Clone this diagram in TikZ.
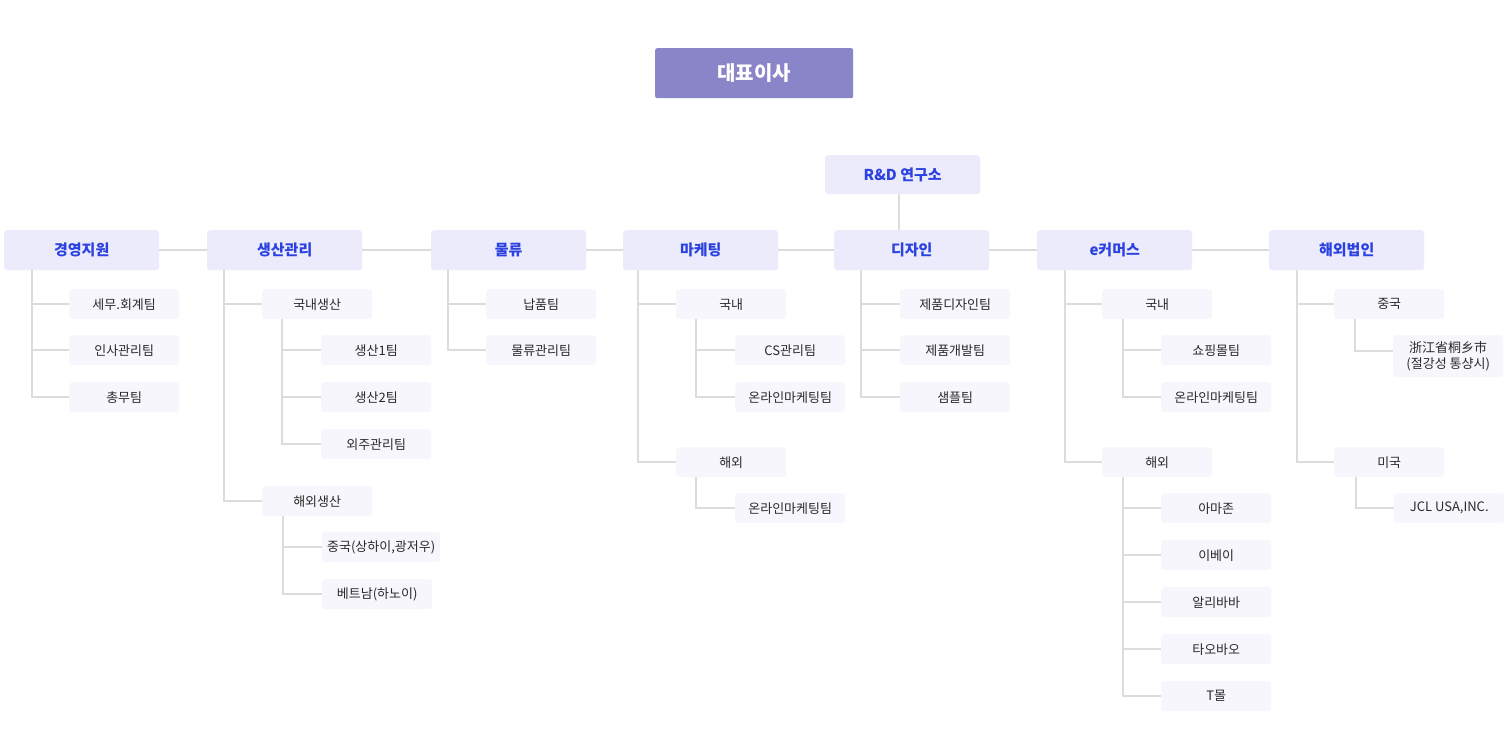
\documentclass[tikz,border=0pt]{standalone}
\usepackage{fontspec}
\setmainfont{Noto Sans CJK KR}
\definecolor{ceofill}{HTML}{8985C8}
\definecolor{topfill}{HTML}{EBEBFB}
\definecolor{subfill}{HTML}{F6F6FC}
\definecolor{topblue}{HTML}{2B42E0}
\definecolor{subtext}{HTML}{2A2A2A}
\definecolor{conncol}{HTML}{DCDCDC}
\tikzset{
  ceobox/.style={fill=ceofill, rounded corners=2pt, minimum width=198pt, minimum height=50pt, inner sep=0pt, anchor=north west, text=white, font=\fontsize{20}{24}\selectfont\bfseries},
  topbox/.style={fill=topfill, rounded corners=3pt, minimum width=155pt, minimum height=40pt, inner sep=0pt, anchor=north west, text=topblue, font=\fontsize{15}{18}\selectfont\bfseries},
  subbox/.style={fill=subfill, rounded corners=3pt, minimum width=110pt, minimum height=30pt, inner sep=0pt, anchor=north west, text=subtext, font=\fontsize{13}{15}\selectfont},
  conn/.style={draw=conncol, line width=2pt},
}
\begin{document}
\begin{tikzpicture}[x=1pt,y=-1pt]
\useasboundingbox (0,0) rectangle (1509,739);
% CEO
\node[ceobox] (ceo) at (655,48) {대표이사};
% R&D
\node[topbox, minimum height=39pt] (rd) at (825,155) {R\&D 연구소};
% level 1
\node[topbox] (a) at (4,230) {경영지원};
\node[topbox] (b) at (207,230) {생산관리};
\node[topbox] (c) at (431,230) {물류};
\node[topbox] (d) at (623,230) {마케팅};
\node[topbox] (e) at (834,230) {디자인};
\node[topbox] (f) at (1037,230) {e커머스};
\node[topbox] (g) at (1269,230) {해외법인};
% level-1 links
\draw[conn] (a.east) -- (b.west);
\draw[conn] (b.east) -- (c.west);
\draw[conn] (c.east) -- (d.west);
\draw[conn] (d.east) -- (e.west);
\draw[conn] (e.east) -- (f.west);
\draw[conn] (f.east) -- (g.west);
\draw[conn] ([xshift=-4pt]rd.south) -- ([xshift=-4pt]rd.south |- e.north);
% 경영지원
\node[subbox] (a1) at (69,289) {세무.회계팀};
\node[subbox] (a2) at (69,335) {인사관리팀};
\node[subbox] (a3) at (69,382) {총무팀};
\foreach \n in {a1,a2,a3} \draw[conn] ([xshift=28pt]a.south west) |- (\n.west);
% 생산관리
\node[subbox] (b1) at (262,289) {국내생산};
\node[subbox] (b11) at (321,335) {생산1팀};
\node[subbox] (b12) at (321,382) {생산2팀};
\node[subbox] (b13) at (321,429) {외주관리팀};
\node[subbox] (b2) at (262,486) {해외생산};
\node[subbox, minimum width=118pt] (b21) at (322,532) {중국(상하이,광저우)};
\node[subbox] (b22) at (322,579) {베트남(하노이)};
\foreach \n in {b1,b2} \draw[conn] ([xshift=17pt]b.south west) |- (\n.west);
\foreach \n in {b11,b12,b13} \draw[conn] ([xshift=20pt]b1.south west) |- (\n.west);
\foreach \n in {b21,b22} \draw[conn] ([xshift=21pt]b2.south west) |- (\n.west);
% 물류
\node[subbox] (c1) at (486,289) {납품팀};
\node[subbox] (c2) at (486,335) {물류관리팀};
\foreach \n in {c1,c2} \draw[conn] ([xshift=17pt]c.south west) |- (\n.west);
% 마케팅
\node[subbox] (d1) at (676,289) {국내};
\node[subbox] (d11) at (735,335) {CS관리팀};
\node[subbox] (d12) at (735,382) {온라인마케팅팀};
\node[subbox] (d2) at (676,447) {해외};
\node[subbox] (d21) at (735,493) {온라인마케팅팀};
\foreach \n in {d1,d2} \draw[conn] ([xshift=15pt]d.south west) |- (\n.west);
\foreach \n in {d11,d12} \draw[conn] ([xshift=20pt]d1.south west) |- (\n.west);
\draw[conn] ([xshift=20pt]d2.south west) |- (d21.west);
% 디자인
\node[subbox] (e1) at (900,289) {제품디자인팀};
\node[subbox] (e2) at (900,335) {제품개발팀};
\node[subbox] (e3) at (900,382) {샘플팀};
\foreach \n in {e1,e2,e3} \draw[conn] ([xshift=27pt]e.south west) |- (\n.west);
% e커머스
\node[subbox] (f1) at (1102,289) {국내};
\node[subbox] (f11) at (1161,335) {쇼핑몰팀};
\node[subbox] (f12) at (1161,382) {온라인마케팅팀};
\node[subbox] (f2) at (1102,447) {해외};
\node[subbox] (f21) at (1161,493) {아마존};
\node[subbox] (f22) at (1161,540) {이베이};
\node[subbox] (f23) at (1161,587) {알리바바};
\node[subbox] (f24) at (1161,634) {타오바오};
\node[subbox] (f25) at (1161,681) {T몰};
\foreach \n in {f1,f2} \draw[conn] ([xshift=28pt]f.south west) |- (\n.west);
\foreach \n in {f11,f12} \draw[conn] ([xshift=21pt]f1.south west) |- (\n.west);
\foreach \n in {f21,f22,f23,f24,f25} \draw[conn] ([xshift=21pt]f2.south west) |- (\n.west);
% 해외법인
\node[subbox] (g1) at (1334,289) {중국};
\node[subbox, minimum height=42pt, align=center, font=\fontsize{13}{16}\selectfont] (g11) at (1393,335) {浙江省桐乡市\\(절강성 통샹시)};
\node[subbox] (g2) at (1334,447) {미국};
\node[subbox] (g21) at (1394,493) {JCL USA,INC.};
\foreach \n in {g1,g2} \draw[conn] ([xshift=28pt]g.south west) |- (\n.west);
\draw[conn] ([xshift=21pt]g1.south west) |- ([yshift=-16pt]g11.north west);
\draw[conn] ([xshift=22pt]g2.south west) |- (g21.west);
\end{tikzpicture}
\end{document}
